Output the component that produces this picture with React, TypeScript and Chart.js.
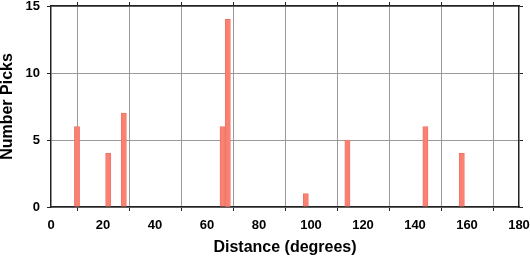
import React, { useEffect, useRef } from "react";
import { Chart, registerables } from "chart.js";

Chart.register(...registerables);

const distances = [10, 22, 28, 66, 68, 98, 114, 144, 158];
const picks = [6, 4, 7, 6, 14, 1, 5, 6, 4];
const xTickStep = 20;
const yTickStep = 5;

const FONT = "'Liberation Sans', Arial, Helvetica, sans-serif";

function fix(size: "w" | "h", v: number) {
  return (s: any) => {
    if (size === "w") s.width = v;
    else s.height = v;
    s.paddingLeft = 0;
    s.paddingRight = 0;
    s.paddingTop = 0;
    s.paddingBottom = 0;
  };
}

export default function App() {
  const ref = useRef<HTMLCanvasElement | null>(null);

  useEffect(() => {
    document.body.style.margin = "0";
    const canvas = ref.current;
    if (!canvas) return;
    const tickFont = { family: FONT, size: 13, weight: "bold" as const };
    const titleFont = { family: FONT, size: 16, weight: "bold" as const, lineHeight: 1 };
    const gridCommon = {
      color: "#9a9a9a",
      lineWidth: 1,
      tickColor: "#222",
      tickLength: 4,
      tickWidth: 1,
    };
    const borderCommon = { color: "#222", width: 1.5 };
    const chart = new Chart(canvas, {
      type: "bar",
      data: {
        datasets: [
          {
            data: distances.map((d, i) => ({ x: d, y: picks[i] })),
            backgroundColor: "rgb(250,128,114)",
            borderColor: "rgb(238,112,100)",
            borderWidth: 0.8,
            barPercentage: 1,
            categoryPercentage: 1,
          },
        ],
      },
      options: {
        animation: false,
        responsive: false,
        events: [],
        layout: { padding: 0 },
        plugins: { legend: { display: false }, tooltip: { enabled: false } },
        scales: {
          x: {
            type: "linear",
            position: "bottom",
            min: 0,
            max: 180,
            offset: false,
            ticks: {
              stepSize: xTickStep,
              color: "#000",
              font: tickFont,
              padding: 7,
              autoSkip: false,
              maxRotation: 0,
            },
            grid: { ...gridCommon },
            border: { ...borderCommon },
            title: {
              display: true,
              text: "Distance (degrees)",
              color: "#000",
              font: titleFont,
              padding: { top: 0, bottom: 2 },
            },
            afterFit: fix("h", 51),
          },
          x2: {
            type: "linear",
            position: "top",
            min: 0,
            max: 180,
            offset: false,
            ticks: { stepSize: xTickStep, display: false },
            grid: { ...gridCommon, drawOnChartArea: false },
            border: { ...borderCommon },
            afterFit: fix("h", 6),
          },
          y: {
            type: "linear",
            position: "left",
            min: 0,
            max: 15,
            ticks: {
              stepSize: yTickStep,
              color: "#000",
              font: tickFont,
              padding: 7,
            },
            grid: { ...gridCommon },
            border: { ...borderCommon },
            title: {
              display: true,
              text: "Number Picks",
              color: "#000",
              font: titleFont,
              padding: 0,
            },
            afterFit: fix("w", 51),
          },
          y2: {
            type: "linear",
            position: "right",
            min: 0,
            max: 15,
            ticks: { stepSize: yTickStep, display: false },
            grid: { ...gridCommon, drawOnChartArea: false },
            border: { ...borderCommon },
            afterFit: fix("w", 11),
          },
        },
      } as any,
    });
    return () => chart.destroy();
  }, []);

  return (
    <div style={{ position: "absolute", left: 0, top: 0, width: 530, height: 258 }}>
      <canvas ref={ref} width={530} height={258} style={{ display: "block" }} />
    </div>
  );
}
